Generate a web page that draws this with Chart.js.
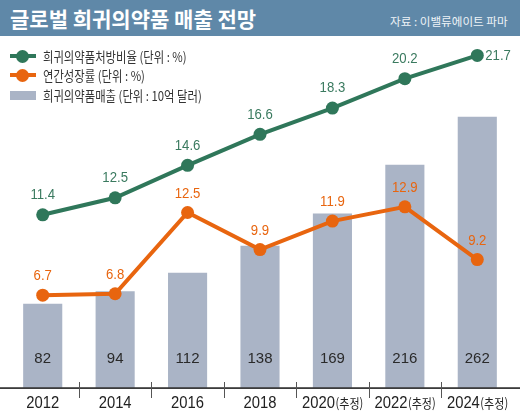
<!DOCTYPE html>
<html>
<head>
<meta charset="utf-8">
<script src="https://cdn.jsdelivr.net/npm/chart.js@4.4.0/dist/chart.umd.min.js"></script>
<style>
  html, body { margin:0; padding:0; background:#fff; }
  #wrap { position:relative; width:520px; height:411px; overflow:hidden; background:#fff; }
  #chart { position:absolute; left:0; top:0; }
  #titlebar { position:absolute; left:0; top:0; width:520px; height:36px; background:#5f88a8; }
  #title { position:absolute; left:10px; top:3px; font-family:"Noto Sans CJK KR"; font-weight:bold; font-size:21px; color:#fff; line-height:30px; white-space:nowrap; }
  #source { position:absolute; left:390px; top:13px; font-family:"Noto Sans CJK KR"; font-size:11.6px; color:#eef3f7; line-height:16px; white-space:nowrap; }
  .lg { position:absolute; left:43px; font-family:"Noto Sans CJK KR"; font-size:13.5px; color:#333; white-space:nowrap; line-height:16px; transform:scaleX(0.84); transform-origin:left center; }
  .lgline { position:absolute; left:10px; width:26px; height:4px; }
  .lgdot { position:absolute; left:16px; width:13px; height:13px; border-radius:50%; }
  .lgbar { position:absolute; left:10px; width:26px; height:9px; }
</style>
</head>
<body>
<div id="wrap">
  <canvas id="chart" width="520" height="411"></canvas>
  <div id="titlebar"></div>
  <div id="title">글로벌 희귀의약품 매출 전망</div>
  <div id="source">자료 : 이밸류에이트 파마</div>
  <div id="legend"></div>
</div>
<script>
// ---- data ----
const categories = ['2012', '2014', '2016', '2018', '2020', '2022', '2024'];
const categorySuffixes = ['', '', '', '', '(추정)', '(추정)', '(추정)'];
const salesValues = [82, 94, 112, 138, 169, 216, 262];
const prescriptionRatio = [11.4, 12.5, 14.6, 16.6, 18.3, 20.2, 21.7];
const growthRate = [6.7, 6.8, 12.5, 9.9, 11.9, 12.9, 9.2];
const seriesNames = ['희귀의약품처방비율 (단위 : %)', '연간성장률 (단위 : %)', '희귀의약품매출 (단위 : 10억 달러)'];

// ---- styles ----
const GREEN = '#2f775a';
const GREEN_TXT = '#3a7a5f';
const ORANGE = '#e8650f';
const BAR = '#aab4c6';

// legend (HTML)
(function () {
  const lg = document.getElementById('legend');
  const rows = [
    { y: 56, kind: 'line', color: GREEN, text: seriesNames[0] },
    { y: 75, kind: 'line', color: ORANGE, text: seriesNames[1] },
    { y: 95, kind: 'bar', color: BAR, text: seriesNames[2] }
  ];
  rows.forEach(r => {
    if (r.kind === 'line') {
      const l = document.createElement('div'); l.className = 'lgline';
      l.style.top = (r.y - 2) + 'px'; l.style.background = r.color; lg.appendChild(l);
      const d = document.createElement('div'); d.className = 'lgdot';
      d.style.top = (r.y - 6.5) + 'px'; d.style.background = r.color; lg.appendChild(d);
    } else {
      const b = document.createElement('div'); b.className = 'lgbar';
      b.style.top = (r.y - 4.5) + 'px'; b.style.background = r.color; lg.appendChild(b);
    }
    const t = document.createElement('div'); t.className = 'lg';
    t.style.top = (r.y - 8) + 'px'; t.textContent = r.text; lg.appendChild(t);
  });
})();

function drawText(ctx, text, x, y, font, color, align, sx) {
  ctx.save();
  ctx.font = font;
  ctx.fillStyle = color;
  ctx.textBaseline = 'middle';
  const w = ctx.measureText(text).width * sx;
  let left = x;
  if (align === 'center') left = x - w / 2;
  else if (align === 'right') left = x - w;
  ctx.translate(left, y);
  ctx.scale(sx, 1);
  ctx.textAlign = 'left';
  ctx.fillText(text, 0, 0);
  ctx.restore();
  return w;
}

const decoPlugin = {
  id: 'deco',
  afterDatasetsDraw(chart) {
    const ctx = chart.ctx;
    const area = chart.chartArea;
    const xs = chart.scales.x;
    // axis line
    ctx.save();
    ctx.fillStyle = '#3c3c3c';
    ctx.fillRect(0, area.bottom - 1.8, chart.width, 1.8);
    // tick marks between categories
    ctx.strokeStyle = '#555';
    ctx.lineWidth = 1;
    for (let i = 0; i < categories.length - 1; i++) {
      const xm = Math.round((xs.getPixelForValue(i) + xs.getPixelForValue(i + 1)) / 2) + 0.5;
      ctx.beginPath();
      ctx.moveTo(xm, area.bottom - 7);
      ctx.lineTo(xm, area.bottom + 9);
      ctx.stroke();
    }
    ctx.restore();

    // x labels
    categories.forEach((c, i) => {
      const cx = xs.getPixelForValue(i);
      const yFont = '17px "Liberation Sans", Arial, sans-serif';
      const sFont = '13px "Noto Sans CJK KR", sans-serif';
      ctx.save();
      ctx.font = yFont; const w1 = ctx.measureText(c).width * 0.87;
      ctx.font = sFont; const w2 = categorySuffixes[i] ? ctx.measureText(categorySuffixes[i]).width * 0.85 : 0;
      ctx.restore();
      const left = cx - (w1 + w2) / 2;
      drawText(ctx, c, left, 403, yFont, '#222', 'left', 0.87);
      if (categorySuffixes[i]) drawText(ctx, categorySuffixes[i], left + w1 + 0.5, 403, sFont, '#222', 'left', 0.85);
    });

    // bar value labels
    const barMeta = chart.getDatasetMeta(2);
    barMeta.data.forEach((el, i) => {
      drawText(ctx, String(salesValues[i]), el.x, el.base - 30, '15px "Liberation Sans", Arial, sans-serif', '#2a2a2a', 'center', 1);
    });
    // green labels
    const gMeta = chart.getDatasetMeta(0);
    gMeta.data.forEach((el, i) => {
      const txt = prescriptionRatio[i].toFixed(1);
      if (i === categories.length - 1) {
        drawText(ctx, txt, el.x + 8, el.y, '15.5px "Liberation Sans", Arial, sans-serif', GREEN_TXT, 'left', 0.85);
      } else {
        drawText(ctx, txt, el.x, el.y - 20, '15.5px "Liberation Sans", Arial, sans-serif', GREEN_TXT, 'center', 0.85);
      }
    });
    const oMeta = chart.getDatasetMeta(1);
    oMeta.data.forEach((el, i) => {
      drawText(ctx, growthRate[i].toFixed(1), el.x, el.y - 19, '15.5px "Liberation Sans", Arial, sans-serif', ORANGE, 'center', 0.85);
    });
  }
};

new Chart(document.getElementById('chart'), {
  type: 'bar',
  data: {
    labels: categories,
    datasets: [
      { type: 'line', label: seriesNames[0], data: prescriptionRatio, yAxisID: 'yG',
        borderColor: GREEN, backgroundColor: GREEN, borderWidth: 4, tension: 0,
        pointRadius: 6.5, pointBackgroundColor: GREEN, pointBorderWidth: 0, order: 1, clip: false },
      { type: 'line', label: seriesNames[1], data: growthRate, yAxisID: 'yO',
        borderColor: ORANGE, backgroundColor: ORANGE, borderWidth: 4, tension: 0,
        pointRadius: 6.5, pointBackgroundColor: ORANGE, pointBorderWidth: 0, order: 2, clip: false },
      { type: 'bar', label: seriesNames[2], data: salesValues, yAxisID: 'yB',
        backgroundColor: BAR, borderWidth: 0, barPercentage: 0.54, categoryPercentage: 1, order: 3 }
    ]
  },
  options: {
    responsive: false,
    animation: false,
    devicePixelRatio: 1,
    layout: { padding: { top: 40, left: 0, right: 0, bottom: 0 } },
    plugins: { legend: { display: false }, tooltip: { enabled: false } },
    scales: {
      x: { offset: true, grid: { display: false }, border: { display: false },
           ticks: { display: false }, afterFit(s) { s.height = 22; } },
      yB: { display: false, min: 0, max: 336 },
      yG: { display: false, min: 0.14, max: 22.7 },
      yO: { display: false, min: 0.12, max: 24.6 }
    }
  },
  plugins: [decoPlugin]
});
</script>
</body>
</html>
